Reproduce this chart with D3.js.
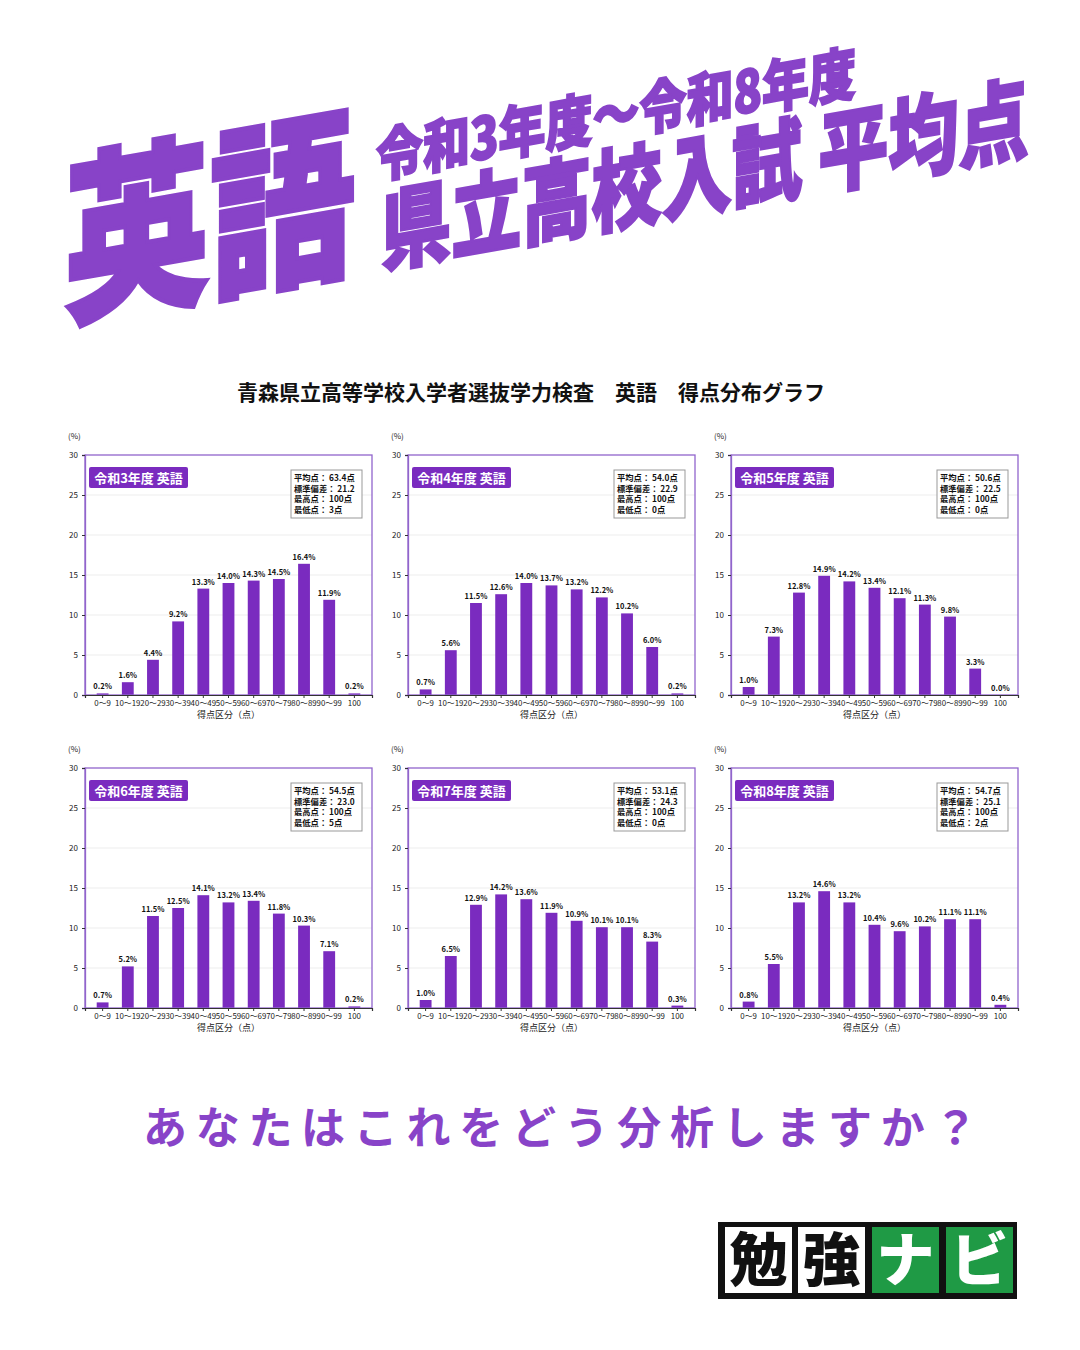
<!DOCTYPE html>
<html>
<head>
<meta charset="utf-8">
<script src="https://cdn.jsdelivr.net/npm/d3@7"></script>
<style>
  html, body { margin: 0; padding: 0; background: #ffffff; }
  svg { display: block; }
  text { font-family: "Noto Sans CJK JP", "Noto Sans", sans-serif; }
</style>
</head>
<body>
<svg id="chart" width="1080" height="1350"></svg>
<script>
// ---------- data ----------
const categories = ["0～9","10～19","20～29","30～39","40～49","50～59","60～69","70～79","80～89","90～99","100"];
const yearLabels = ["令和3年度 英語","令和4年度 英語","令和5年度 英語","令和6年度 英語","令和7年度 英語","令和8年度 英語"];
const r3 = [0.2, 1.6, 4.4, 9.2, 13.3, 14.0, 14.3, 14.5, 16.4, 11.9, 0.2];
const r4 = [0.7, 5.6, 11.5, 12.6, 14.0, 13.7, 13.2, 12.2, 10.2, 6.0, 0.2];
const r5 = [1.0, 7.3, 12.8, 14.9, 14.2, 13.4, 12.1, 11.3, 9.8, 3.3, 0.0];
const r6 = [0.7, 5.2, 11.5, 12.5, 14.1, 13.2, 13.4, 11.8, 10.3, 7.1, 0.2];
const r7 = [1.0, 6.5, 12.9, 14.2, 13.6, 11.9, 10.9, 10.1, 10.1, 8.3, 0.3];
const r8 = [0.8, 5.5, 13.2, 14.6, 13.2, 10.4, 9.6, 10.2, 11.1, 11.1, 0.4];
const seriesList = [r3, r4, r5, r6, r7, r8];
const meanScores = [63.4, 54.0, 50.6, 54.5, 53.1, 54.7];
const stdDevs = [21.2, 22.9, 22.5, 23.0, 24.3, 25.1];
const maxScores = [100, 100, 100, 100, 100, 100];
const minScores = [3, 0, 0, 5, 0, 2];
const yTicks = [0, 5, 10, 15, 20, 25, 30];

// ---------- styles ----------
const TITLE_PURPLE = "#8843c8";
const BAR_PURPLE = "#7a2bbf";
const FRAME_PURPLE = "#9165cc";

const svg = d3.select("#chart");
svg.append("rect").attr("width", 1080).attr("height", 1350).attr("fill", "#fff");

// ---------- big title ----------
const tg = svg.append("g").attr("fill", TITLE_PURPLE).attr("stroke", TITLE_PURPLE)
  .attr("font-weight", 900);
tg.append("text")
  .attr("transform", "translate(64,312) skewY(-10) scale(0.81,1.02)")
  .attr("font-size", 180).attr("stroke-width", 4)
  .text("英語");
tg.append("text")
  .attr("transform", "translate(376,178) skewY(-10) scale(0.81,1)")
  .attr("font-size", 58).attr("stroke-width", 2)
  .text("令和3年度～令和8年度");
tg.append("text")
  .attr("transform", "translate(381,265) skewY(-10) scale(0.78,1)")
  .attr("font-size", 90).attr("stroke-width", 2.5)
  .text("県立高校入試 平均点");

// ---------- subtitle ----------
svg.append("text")
  .attr("x", 531).attr("y", 400)
  .attr("text-anchor", "middle")
  .attr("font-size", 21).attr("font-weight", 700).attr("fill", "#111")
  .text("青森県立高等学校入学者選抜学力検査　英語　得点分布グラフ");

// ---------- panels ----------
const colX = [85, 408, 731];
const rowY = [455, 768];
const PW = 287, PH = 240;

const x = d3.scaleBand().domain(categories).range([0, PW]).paddingInner(0.53).paddingOuter(0.465);
const y = d3.scaleLinear().domain([0, 30]).range([PH, 0]);

seriesList.forEach((vals, i) => {
  const gx = colX[i % 3], gy = rowY[Math.floor(i / 3)];
  const g = svg.append("g").attr("transform", `translate(${gx},${gy})`);

  // gridlines
  g.selectAll("line.grid").data(yTicks.filter(t => t > 0 && t < 30)).join("line")
    .attr("x1", 0).attr("x2", PW)
    .attr("y1", d => y(d)).attr("y2", d => y(d))
    .attr("stroke", "#e9e9e9").attr("stroke-width", 0.8);

  // bars
  const data = categories.map((c, k) => ({ c, v: vals[k] }));
  g.selectAll("rect.bar").data(data).join("rect")
    .attr("x", d => x(d.c)).attr("width", x.bandwidth())
    .attr("y", d => y(d.v)).attr("height", d => PH - y(d.v))
    .attr("fill", BAR_PURPLE);

  // bar labels
  g.selectAll("text.lbl").data(data).join("text")
    .attr("x", d => x(d.c) + x.bandwidth() / 2)
    .attr("y", d => y(d.v) - 4)
    .attr("text-anchor", "middle")
    .attr("font-size", 7.5).attr("font-weight", 700).attr("fill", "#111")
    .text(d => d.v.toFixed(1) + "%");

  // frame
  g.append("rect").attr("x", 0).attr("y", 0).attr("width", PW).attr("height", PH)
    .attr("fill", "none").attr("stroke", FRAME_PURPLE).attr("stroke-width", 1.3);

  // y axis
  const ya = g.append("g").call(d3.axisLeft(y).tickValues(yTicks).tickSize(3).tickPadding(4));
  ya.select(".domain").attr("stroke", FRAME_PURPLE).attr("stroke-width", 1.3);
  ya.selectAll(".tick line").attr("stroke", "#333");
  ya.selectAll(".tick text").attr("font-size", 8).attr("fill", "#222")
    .attr("font-family", "\"Noto Sans CJK JP\", sans-serif");

  // x axis
  const xa = g.append("g").attr("transform", `translate(0,${PH})`)
    .call(d3.axisBottom(x).tickSize(3).tickPadding(2));
  xa.select(".domain").attr("stroke", "#333").attr("stroke-width", 1.2);
  xa.selectAll(".tick line").attr("stroke", "#333");
  xa.selectAll(".tick text").attr("font-size", 7.9).attr("fill", "#222")
    .attr("font-family", "\"Noto Sans CJK JP\", sans-serif");

  // (%) label
  g.append("text").attr("x", -17).attr("y", -16)
    .attr("font-size", 8).attr("fill", "#222").text("(%)");

  // x title
  g.append("text").attr("x", PW / 2).attr("y", PH + 23)
    .attr("text-anchor", "middle").attr("font-size", 9).attr("fill", "#222")
    .text("得点区分（点）");

  // year badge
  g.append("rect").attr("x", 4).attr("y", 12).attr("width", 99).attr("height", 21)
    .attr("rx", 2).attr("fill", BAR_PURPLE);
  g.append("text").attr("x", 53.5).attr("y", 27.5).attr("text-anchor", "middle")
    .attr("font-size", 13).attr("font-weight", 700).attr("fill", "#fff")
    .text(yearLabels[i]);

  // stats box
  g.append("rect").attr("x", 206).attr("y", 15).attr("width", 71).attr("height", 48)
    .attr("fill", "#fff").attr("stroke", "#999").attr("stroke-width", 1);
  const lines = [
    "平均点： " + meanScores[i].toFixed(1) + "点",
    "標準偏差： " + stdDevs[i].toFixed(1),
    "最高点： " + maxScores[i] + "点",
    "最低点： " + minScores[i] + "点"
  ];
  g.selectAll("text.stat").data(lines).join("text")
    .attr("x", 209).attr("y", (d, k) => 26 + k * 10.6)
    .attr("font-size", 8.3).attr("font-weight", 700).attr("fill", "#111")
    .text(d => d);
});

// ---------- question ----------
svg.append("text")
  .attr("x", 143).attr("y", 1144)
  .attr("font-size", 44).attr("font-weight", 700).attr("fill", TITLE_PURPLE)
  .attr("letter-spacing", 8.7)
  .text("あなたはこれをどう分析しますか？");

// ---------- logo ----------
const logo = svg.append("g");
logo.append("rect").attr("x", 718).attr("y", 1222).attr("width", 299).attr("height", 77).attr("fill", "#111");
const cells = [
  { ch: "勉", x: 725, bg: "#fff", fg: "#111" },
  { ch: "強", x: 798, bg: "#fff", fg: "#111" },
  { ch: "ナ", x: 872, bg: "#1f9a45", fg: "#fff" },
  { ch: "ビ", x: 946, bg: "#1f9a45", fg: "#fff" }
];
cells.forEach(c => {
  logo.append("rect").attr("x", c.x).attr("y", 1227).attr("width", 67).attr("height", 66).attr("fill", c.bg);
  logo.append("text").attr("x", c.x + 33.5).attr("y", 1281).attr("text-anchor", "middle")
    .attr("font-size", 58).attr("font-weight", 900).attr("fill", c.fg).text(c.ch);
});
</script>
</body>
</html>
